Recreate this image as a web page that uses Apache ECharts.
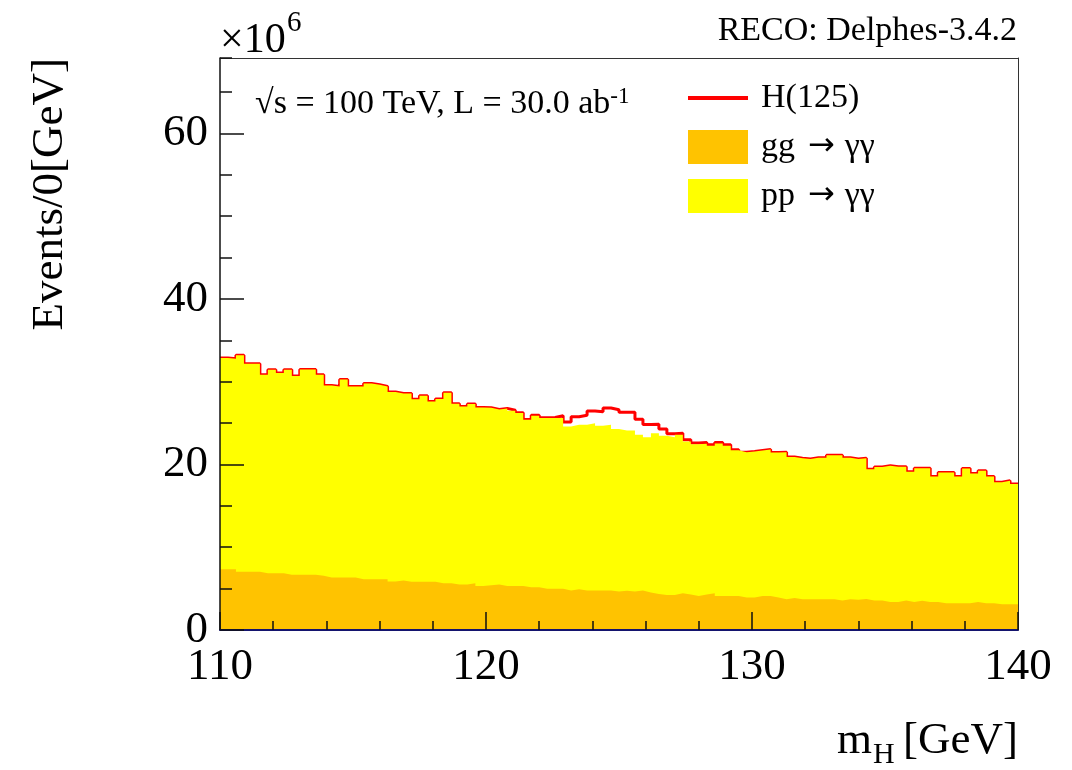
<!DOCTYPE html>
<html><head><meta charset="utf-8">
<script src="https://cdn.jsdelivr.net/npm/echarts@6/dist/echarts.min.js"></script>
<style>html,body{margin:0;padding:0;background:#fff;} #c{width:1072px;height:770px;}</style>
</head><body><div id="c"></div>
<script>
// ---- data (units of 10^6 events per bin) ----
const xMin = 110, xMax = 140, binWidth = 0.3;
const yMin = 0, yMax = 69.1;
const xTickLabels = [110, 120, 130, 140];
const yTickLabels = [0, 20, 40, 60];
const seriesNames = ['H(125)', 'gg → γγ', 'pp → γγ'];

const ggCounts = [
 7.35,7.35,7.03,7.03,7.03,6.87,6.87,6.87,6.67,6.67,
 6.67,6.67,6.55,6.34,6.34,6.34,6.34,6.14,6.14,6.14,
 6.14,5.86,5.98,5.82,5.82,5.82,5.82,5.66,5.66,5.50,
 5.50,5.66,5.33,5.41,5.50,5.33,5.33,5.33,5.17,5.17,
 4.97,4.97,4.97,4.77,4.93,4.77,4.77,4.77,4.77,4.65,
 4.73,4.65,4.77,4.53,4.36,4.24,4.24,4.44,4.28,4.12,
 4.28,4.44,4.12,4.12,4.12,3.92,3.92,4.12,4.12,3.92,
 3.72,3.88,3.72,3.72,3.72,3.72,3.72,3.55,3.72,3.64,
 3.76,3.55,3.55,3.39,3.39,3.55,3.39,3.52,3.39,3.39,
 3.23,3.23,3.23,3.23,3.39,3.23,3.23,3.11,3.11,3.11];

const ppCounts = [
 25.50,25.42,26.16,25.13,25.13,23.96,24.57,24.17,24.77,24.01,
 24.79,24.79,24.28,23.19,23.07,23.91,23.07,23.27,23.64,23.49,
 23.27,22.89,22.58,22.74,22.05,22.48,21.79,22.24,23.00,21.83,
 21.50,21.63,21.56,21.43,21.15,21.44,21.17,20.87,20.23,20.71,
 20.63,20.63,20.63,19.81,19.86,20.02,20.22,19.90,20.02,19.62,
 19.37,19.45,18.81,18.77,19.42,19.22,19.06,19.14,18.49,18.33,
 18.22,17.81,18.40,18.15,17.58,17.54,17.64,17.56,17.68,17.52,
 17.74,17.01,17.04,16.93,17.08,17.08,17.39,17.56,17.08,17.01,
 17.00,15.86,16.14,16.46,16.32,16.16,15.72,16.03,16.16,15.15,
 15.79,15.79,15.31,16.29,15.51,16.00,15.31,14.73,14.91,14.54];

const higgsCounts = [
 0,0,0,0,0,0,0,0,0,0,
 0,0,0,0,0,0,0,0,0,0,
 0,0,0,0,0,0,0,0,0,0,
 0,0,0,0,0,0,0.04,0.04,0.02,0.06,
 0.03,0.07,0.28,0.55,0.97,1.15,1.46,1.69,2.02,2.33,
 2.22,2.22,1.87,1.52,1.07,0.81,0.40,0.18,0.20,0.13,
 0.15,0.12,0.13,0.10,0.07,0,0,0,0,0,
 0,0,0,0,0,0,0,0,0,0,
 0,0,0,0,0,0,0,0,0,0,
 0,0,0,0,0,0,0,0,0,0];

// ---- build stacked histogram outlines ----
const edges = ggCounts.map((_, i) => +(xMin + i * binWidth).toFixed(3));
function stepData(vals) {
  const d = vals.map((v, i) => [edges[i], v]);
  d.push([xMax, vals[vals.length - 1]]);
  return d;
}
const ggTop = ggCounts.slice();
const ppTop = ggCounts.map((g, i) => g + ppCounts[i]);
const hTop = ppTop.map((p, i) => p + higgsCounts[i]);

const F = 'Liberation Serif';
const RED = '#ff0000', ORANGE = '#ffc300', YELLOW = '#ffff00';

const chart = echarts.init(document.getElementById('c'), null, {renderer: 'canvas'});

function legendLabel(name) {
  const parts = name.split('→');
  if (parts.length < 2) return '{a|' + name + '}';
  return '{a|' + parts[0].trim() + '}{r|→}{a|' + parts[1].trim() + '}';
}
const legendCommon = {
  orient: 'vertical', padding: 0, selectedMode: false, itemWidth: 60,
  formatter: legendLabel,
  textStyle: {fontFamily: F, fontSize: 34, color: '#000', lineHeight: 34, padding: [0, 0, 0, 8],
    rich: {a: {fontFamily: F, fontSize: 34, color: '#000', lineHeight: 34},
           r: {fontFamily: 'DejaVu Sans', fontSize: 32, color: '#000', lineHeight: 34, padding: [0, 10, 0, 13]}}}
};

chart.setOption({
  animation: false,
  backgroundColor: '#fff',
  grid: {left: 220, top: 58, right: 54, bottom: 140, show: false},
  xAxis: [
    {type: 'value', position: 'bottom', min: xMin, max: xMax, interval: 10, z: 10,
     axisLine: {show: true, onZero: false, lineStyle: {color: '#14146e', width: 2}},
     axisTick: {show: true, inside: true, length: 18, lineStyle: {color: '#111', width: 1.5}},
     axisLabel: {show: true, margin: 15, fontFamily: F, fontSize: 45, color: '#000',
       formatter: v => xTickLabels.indexOf(Math.round(v)) >= 0 ? String(Math.round(v)) : ''},
     splitLine: {show: false}},
    {type: 'value', position: 'bottom', min: xMin, max: xMax, interval: 2, z: 10,
     axisLine: {show: false}, axisLabel: {show: false}, splitLine: {show: false},
     axisTick: {show: true, inside: true, length: 9, lineStyle: {color: '#111', width: 1.5}}},
    {type: 'value', position: 'top', min: xMin, max: xMax, z: 10,
     axisLine: {show: true, onZero: false, lineStyle: {color: '#333', width: 1}},
     axisTick: {show: false}, axisLabel: {show: false}, splitLine: {show: false}}
  ],
  yAxis: [
    {type: 'value', position: 'left', min: yMin, max: yMax, interval: 20, z: 10,
     axisLine: {show: true, onZero: false, lineStyle: {color: '#111', width: 1.5}},
     axisTick: {show: true, inside: true, length: 24, lineStyle: {color: '#111', width: 1.5}},
     axisLabel: {show: true, margin: 12, fontFamily: F, fontSize: 45, color: '#000', showMaxLabel: false,
       formatter: v => yTickLabels.indexOf(Math.round(v)) >= 0 && Math.abs(v - Math.round(v)) < 1e-6 ? String(Math.round(v)) : ''},
     splitLine: {show: false}},
    {type: 'value', position: 'left', min: yMin, max: yMax, interval: 5, z: 10,
     axisLine: {show: false}, axisLabel: {show: false}, splitLine: {show: false},
     axisTick: {show: true, inside: true, length: 12, lineStyle: {color: '#111', width: 1.5}}},
    {type: 'value', position: 'right', min: yMin, max: yMax, z: 10,
     axisLine: {show: true, onZero: false, lineStyle: {color: '#333', width: 1}},
     axisTick: {show: false}, axisLabel: {show: false}, splitLine: {show: false}}
  ],
  legend: [
    Object.assign({}, legendCommon, {left: 688, top: 81, itemHeight: 4,
      data: [{name: seriesNames[0], icon: 'rect', itemStyle: {color: RED, borderWidth: 0}}]}),
    Object.assign({}, legendCommon, {left: 688, top: 130, itemHeight: 34,
      data: [{name: seriesNames[1], icon: 'rect', itemStyle: {color: ORANGE, borderWidth: 0}}]}),
    Object.assign({}, legendCommon, {left: 688, top: 179, itemHeight: 34,
      data: [{name: seriesNames[2], icon: 'rect', itemStyle: {color: YELLOW, borderWidth: 0}}]})
  ],
  series: [
    {name: seriesNames[0], type: 'line', step: 'end', data: stepData(hTop), symbol: 'none',
     xAxisIndex: 0, yAxisIndex: 0, z: 1, silent: true, color: RED,
     lineStyle: {color: RED, width: 3}, itemStyle: {color: RED}},
    {name: seriesNames[2], type: 'line', step: 'end', data: stepData(ppTop), symbol: 'none',
     xAxisIndex: 0, yAxisIndex: 0, z: 2, silent: true, color: YELLOW,
     lineStyle: {width: 0, opacity: 0}, areaStyle: {color: YELLOW, opacity: 1}, itemStyle: {color: YELLOW}},
    {name: seriesNames[1], type: 'line', step: 'end', data: stepData(ggTop), symbol: 'none',
     xAxisIndex: 0, yAxisIndex: 0, z: 3, silent: true, color: ORANGE,
     lineStyle: {width: 0, opacity: 0}, areaStyle: {color: ORANGE, opacity: 1}, itemStyle: {color: ORANGE}}
  ],
  graphic: [
    // ×10^6 multiplier
    {type: 'text', x: 220, y: 41, z: 20, style: {
      text: '×10', align: 'left', verticalAlign: 'middle', fill: '#000', fontFamily: F, fontSize: 42}},
    {type: 'text', x: 287, y: 23, z: 20, style: {
      text: '6', align: 'left', verticalAlign: 'middle', fill: '#000', fontFamily: F, fontSize: 29}},
    // header
    {type: 'text', x: 1017, y: 31, z: 20, style: {
      text: 'RECO: Delphes-3.4.2', align: 'right', verticalAlign: 'middle',
      fill: '#000', fontFamily: F, fontSize: 34}},
    // energy / luminosity
    {type: 'text', x: 255, y: 85, z: 20, style: {
      text: '{a|√s = 100 TeV, L = 30.0 ab}{s|-1}', align: 'left', verticalAlign: 'top',
      rich: {a: {fill: '#000', fontFamily: F, fontSize: 34, lineHeight: 38},
             s: {fill: '#000', fontFamily: F, fontSize: 23, lineHeight: 22, verticalAlign: 'top'}}}},
    // x-axis title m_H [GeV]
    {type: 'text', x: 1018, y: 741, z: 20, style: {
      text: '[GeV]', align: 'right', verticalAlign: 'middle', fill: '#000', fontFamily: F, fontSize: 45}},
    {type: 'text', x: 873, y: 755, z: 20, style: {
      text: 'H', align: 'left', verticalAlign: 'middle', fill: '#000', fontFamily: F, fontSize: 30}},
    {type: 'text', x: 872, y: 741, z: 20, style: {
      text: 'm', align: 'right', verticalAlign: 'middle', fill: '#000', fontFamily: F, fontSize: 45}},
    // y-axis title
    {type: 'text', x: 50, y: 58, rotation: Math.PI / 2, z: 20, style: {
      text: 'Events/0[GeV]', align: 'right', verticalAlign: 'middle',
      fill: '#000', fontFamily: F, fontSize: 45}}
  ]
});
</script></body></html>
